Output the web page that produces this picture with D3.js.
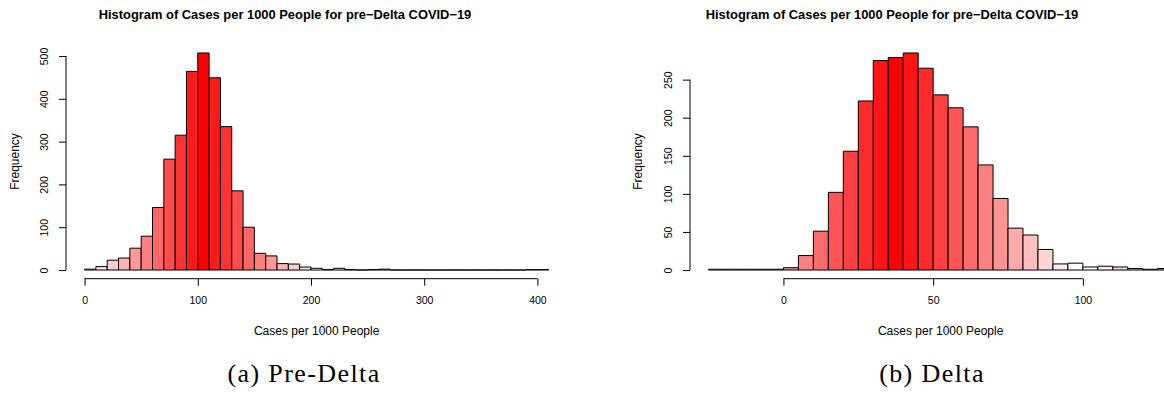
<!DOCTYPE html>
<html><head><meta charset="utf-8">
<script src="https://cdnjs.cloudflare.com/ajax/libs/d3/7.8.5/d3.min.js"></script>
<style>
html,body{margin:0;padding:0;background:#fff;}
svg{display:block;}
text{font-family:"Liberation Sans",Arial,Helvetica,sans-serif;fill:#000;}
.cap{font-family:"Liberation Serif","Times New Roman",serif;}
</style></head>
<body>
<script>
// ---------- data ----------
const titleText = "Histogram of Cases per 1000 People for pre\u2212Delta COVID\u221219";
const xLabel = "Cases per 1000 People";
const yLabel = "Frequency";

// Pre-Delta histogram: bins of width 10 starting at 0
const preStart = 0;
const preWidth = 10;
const preCounts = [2, 8, 23, 28, 51, 79, 146, 259, 315, 464, 507, 449, 335, 185, 100, 39, 33, 15, 14, 7,
                   4, 1, 4, 1, 0, 1, 2, 0, 0, 0, 0, 0, 0, 0, 0, 0, 0, 0, 0, 1, 1];
const preXTicks = [0, 100, 200, 300, 400];
const preYTicks = [0, 100, 200, 300, 400, 500];
const prePaletteSize = 21;
const preCaption = "(a) Pre-Delta";

// Delta histogram: bins of width 5 starting at -25
const deltaStart = -25;
const deltaWidth = 5;
const deltaCounts = [1, 1, 1, 1, 1, 3, 19, 51, 102, 156, 222, 275, 279, 285, 265, 230, 213, 188, 138, 94,
                     55, 46, 27, 8, 9, 4, 5, 4, 2, 1, 2];
const deltaXTicks = [0, 50, 100];
const deltaYTicks = [0, 50, 100, 150, 200, 250];
const deltaPaletteSize = 25;
const deltaCaption = "(b) Delta";

// ---------- layout ----------
const W = 1164, H = 402;
const svg = d3.select("body").append("svg").attr("width", W).attr("height", H);

const panels = [
  {start: preStart, width: preWidth, counts: preCounts, xTicks: preXTicks, yTicks: preYTicks,
   pal: prePaletteSize, caption: preCaption,
   left: 66, right: 567.3, titleX: 285, capX: 304, ylabX: 15},
  {start: deltaStart, width: deltaWidth, counts: deltaCounts, xTicks: deltaXTicks, yTicks: deltaYTicks,
   pal: deltaPaletteSize, caption: deltaCaption,
   left: 690, right: 1191.3, titleX: 892, capX: 932, ylabX: 638}
];
const plotTop = 44.3, plotBottom = 278.7;
const tickLen = 7;

panels.forEach(p => {
  const n = p.counts.length;
  const end = p.start + n * p.width;
  const ext = 0.04 * (end - p.start);
  const x = d3.scaleLinear().domain([p.start - ext, end + ext]).range([p.left, p.right]);
  const maxC = d3.max(p.counts);
  const y = d3.scaleLinear().domain([-0.04 * maxC, 1.04 * maxC]).range([plotBottom, plotTop]);

  const bins = p.counts.map((c, i) => ({x0: p.start + i * p.width, x1: p.start + (i + 1) * p.width, c, i}));
  const half = (p.pal - 1) / 2;
  const color = i => {
    const k = i % p.pal;
    const t = 1 - Math.abs(k - half) / half;
    return d3.interpolateRgb("#ffffff", "#ff0000")(t);
  };

  const g = svg.append("g");
  g.selectAll("path.bar").data(bins).enter().append("path")
    .attr("class", "bar")
    .attr("d", d => `M${x(d.x0)},${y(0)}H${x(d.x1)}V${y(d.c)}H${x(d.x0)}Z`)
    .attr("fill", d => color(d.i))
    .attr("stroke", "#000")
    .attr("stroke-width", 1);

  // x axis
  const xa = g.append("g").attr("transform", `translate(0,${plotBottom})`)
    .call(d3.axisBottom(x).tickValues(p.xTicks).tickSize(tickLen).tickPadding(10.8).tickFormat(d3.format("d")));
  xa.select(".domain").remove();
  xa.append("line").attr("x1", x(p.xTicks[0])).attr("x2", x(p.xTicks[p.xTicks.length - 1]))
    .attr("stroke", "#000");
  xa.selectAll("text").attr("font-size", 10.5).attr("font-family", null);

  // y axis
  const ya = g.append("g").attr("transform", `translate(${p.left},0)`)
    .call(d3.axisLeft(y).tickValues(p.yTicks).tickSize(tickLen).tickFormat(d3.format("d")));
  ya.select(".domain").remove();
  ya.append("line").attr("y1", y(p.yTicks[0])).attr("y2", y(p.yTicks[p.yTicks.length - 1]))
    .attr("stroke", "#000");
  ya.selectAll(".tick text")
    .attr("x", null).attr("dy", null)
    .attr("font-size", 10.5).attr("font-family", null)
    .attr("text-anchor", "middle")
    .attr("transform", "translate(-18.5,0) rotate(-90)");

  // labels
  g.append("text").attr("x", (p.left + p.right) / 2).attr("y", 335)
    .attr("text-anchor", "middle").attr("font-size", 12).text(xLabel);
  g.append("text").attr("transform", `translate(${p.ylabX + 4.3},${(plotTop + plotBottom) / 2}) rotate(-90)`)
    .attr("text-anchor", "middle").attr("font-size", 12).text(yLabel);
  g.append("text").attr("x", p.titleX).attr("y", 18.5)
    .attr("text-anchor", "middle").attr("font-size", 12.9).attr("font-weight", "bold").text(titleText);
  g.append("text").attr("class", "cap").attr("x", p.capX).attr("y", 382)
    .attr("text-anchor", "middle").attr("font-size", 26).attr("letter-spacing", 1.4).text(p.caption);
});
</script>
</body></html>
